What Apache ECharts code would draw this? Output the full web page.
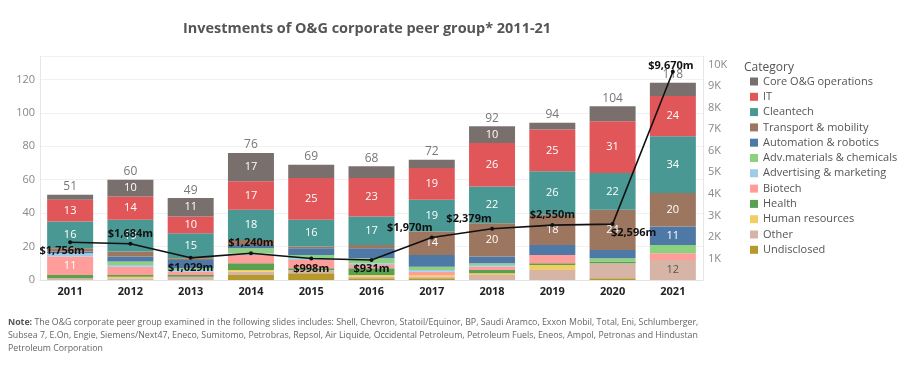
<!DOCTYPE html>
<html><head><meta charset="utf-8">
<script src="https://cdn.jsdelivr.net/npm/echarts@6/dist/echarts.min.js"></script>
<style>html,body{margin:0;padding:0;background:#fff}#c{width:900px;height:378px}</style>
</head><body><div id="c"></div>
<script>
const years = ['2011','2012','2013','2014','2015','2016','2017','2018','2019','2020','2021'];
const coreOG      = [3,10,11,17,8,7,5,10,4,9,8];
const it          = [13,14,10,17,25,23,19,26,25,31,24];
const cleantech   = [16,19,15,18,16,17,19,22,26,22,34];
const transport   = [2,3,1,3,1,2,14,20,18,24,20];
const automation  = [1,3,5,2,4,6,7,4,6,5,11];
const advMaterials= [0,2,1,3,2,3,2,1,0,2,5];
const advertising = [2,1,1,1,1,1,1,1,0,0,0];
const biotech     = [11,5,2,5,5,2,2,2,5,0,4];
const health      = [2,1,1,4,1,4,0,2,1,1,0];
const humanRes    = [0,1,0,1,0,1,1,1,3,0,0];
const other       = [1,1,2,2,2,1,1,3,6,9,12];
const undisclosed = [0,0,0,3,4,1,1,0,0,1,0];
const investmentM = [1756,1684,1029,1240,998,931,1970,2379,2550,2596,9670];
const rightTicks  = [1000,2000,3000,4000,5000,6000,7000,8000,9000,10000];

// presentation config (not data)
const lineLabelOffsets = [[-8,9],[0,-10],[0,10],[0,-10],[0,10],[0,9],[-22,-10],[-23,-10],[0,-10],[21,9],[-2,-6]];

const FONT = '"Open Sans", "Noto Sans", sans-serif';
const cats = [
  ['Undisclosed', undisclosed, '#B6992D'],
  ['Other', other, '#D7B5A6'],
  ['Human resources', humanRes, '#F1CE63'],
  ['Health', health, '#59A14F'],
  ['Biotech', biotech, '#FF9D9A'],
  ['Advertising & marketing', advertising, '#A0CBE8'],
  ['Adv.materials & chemicals', advMaterials, '#8CD17D'],
  ['Automation & robotics', automation, '#4E79A7'],
  ['Transport & mobility', transport, '#9D7660'],
  ['Cleantech', cleantech, '#499894'],
  ['IT', it, '#E15759'],
  ['Core O&G operations', coreOG, '#79706E']
];
const totals = years.map((_, i) => cats.reduce((s, c) => s + c[1][i], 0));

const series = [];
series.push({
  name: 'Total', type: 'bar', yAxisIndex: 0, data: totals, barWidth: 46, barGap: '-100%',
  silent: true, z: 1,
  itemStyle: { color: 'rgba(0,0,0,0)' },
  label: { show: true, position: 'top', distance: 2, color: '#777', fontFamily: FONT, fontSize: 12 }
});
cats.forEach(([name, vals, color]) => series.push({
  name, type: 'bar', stack: 'inv', yAxisIndex: 0, data: vals, barWidth: 46, barGap: '-100%',
  itemStyle: { color },
  label: {
    show: true, position: 'inside', fontFamily: FONT, fontSize: 11,
    color: name === 'Other' ? '#555' : '#fff',
    formatter: p => (p.value >= 10 ? String(p.value) : '')
  }
}));
series.push({
  name: 'Investment', type: 'line', yAxisIndex: 1, z: 10,
  data: investmentM.map((v, i) => ({ value: v, label: { offset: lineLabelOffsets[i] } })),
  symbol: 'circle', symbolSize: 4,
  itemStyle: { color: '#111' }, lineStyle: { color: '#111', width: 1.6 },
  label: {
    show: true, position: 'inside', color: '#111', fontFamily: FONT, fontSize: 11, fontWeight: 'bold',
    formatter: p => '$' + p.value.toLocaleString('en-US') + 'm'
  }
});

const chart = echarts.init(document.getElementById('c'), null, { renderer: 'canvas' });
chart.setOption({
  animation: false,
  textStyle: { fontFamily: FONT },
  title: {
    text: 'Investments of O&G corporate peer group* 2011-21',
    left: 178, top: 17,
    textStyle: { fontFamily: FONT, fontSize: 14.45, fontWeight: 'bold', color: '#555' }
  },
  grid: { left: 40, right: 197, top: 56, bottom: 98 },
  legend: {
    orient: 'vertical', left: 745, top: 71, itemWidth: 8, itemHeight: 8, itemGap: 4.3,
    icon: 'rect', selectedMode: false,
    data: cats.map(c => c[0]).reverse(),
    textStyle: { fontFamily: FONT, fontSize: 11, color: '#555' }
  },
  xAxis: {
    type: 'category', data: years,
    axisTick: { show: false },
    axisLine: { lineStyle: { color: '#e3e3e3' } },
    axisLabel: { color: '#222', fontWeight: 'bold', fontSize: 11, margin: 6, fontFamily: FONT }
  },
  yAxis: [
    {
      type: 'value', min: 0, max: 134, interval: 20,
      axisLine: { show: true, lineStyle: { color: '#e6e6e6' } },
      axisTick: { show: false },
      splitLine: { lineStyle: { color: '#f1f1f1' } },
      axisLabel: { color: '#888', fontSize: 11, margin: 5, showMaxLabel: false, fontFamily: FONT }
    },
    {
      type: 'value', min: 0, max: 10400, interval: 1000,
      axisLine: { show: true, lineStyle: { color: '#e6e6e6' } },
      axisTick: { show: false },
      splitLine: { show: false },
      axisLabel: {
        color: '#888', fontSize: 11, margin: 5, showMaxLabel: false, fontFamily: FONT,
        formatter: v => (rightTicks.indexOf(v) >= 0 ? (v / 1000) + 'K' : '')
      }
    }
  ],
  graphic: [
    { type: 'text', left: 744, top: 62, style: { text: 'Category', font: '12px ' + FONT, fill: '#555' } },
    {
      type: 'text', left: 8, top: 316,
      style: {
        text: '{b|Note:} The O&G corporate peer group examined in the following slides includes: Shell, Chevron, Statoil/Equinor, BP, Saudi Aramco, Exxon Mobil, Total, Eni, Schlumberger,\nSubsea 7, E.On, Engie, Siemens/Next47, Eneco, Sumitomo, Petrobras, Repsol, Air Liquide, Occidental Petroleum, Petroleum Fuels, Eneos, Ampol, Petronas and Hindustan\nPetroleum Corporation',
        fontSize: 8.8, fontFamily: FONT, fill: '#666', lineHeight: 13,
        rich: { b: { fontWeight: 'bold', fill: '#555', fontSize: 8.8, fontFamily: FONT, lineHeight: 13 } }
      }
    }
  ],
  series
});
</script></body></html>
